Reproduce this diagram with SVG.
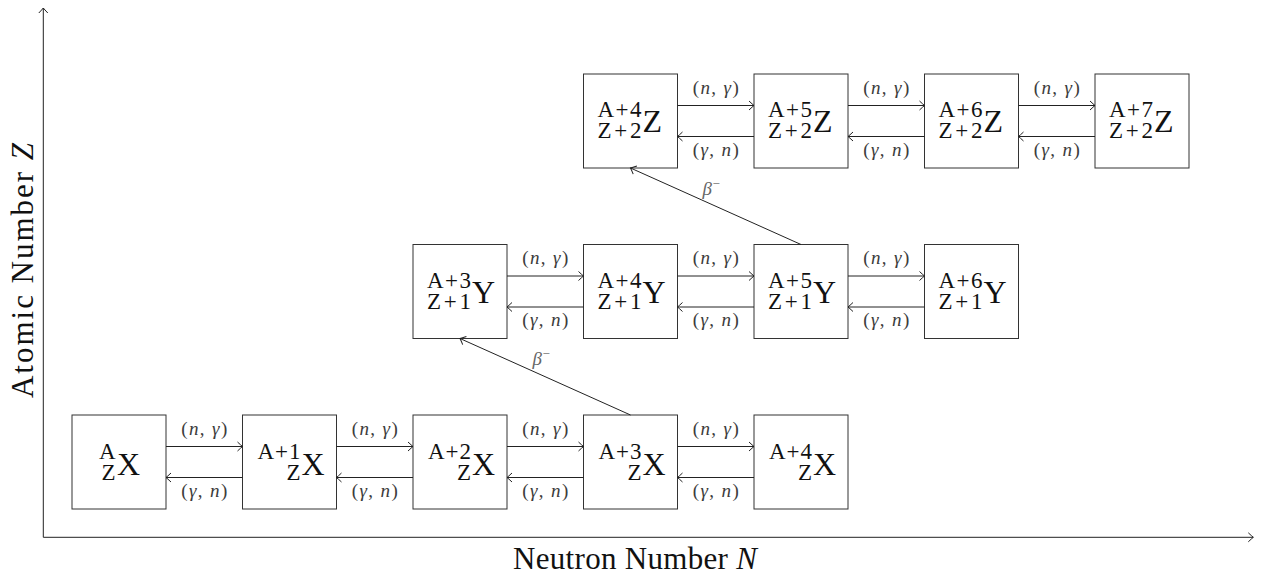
<svg xmlns="http://www.w3.org/2000/svg" width="1272" height="579" viewBox="0 0 1272 579" font-family="'Liberation Serif', 'Times New Roman', serif">
<style>
text, tspan{font-family:'Liberation Serif','Times New Roman',serif}
.box{fill:#fff;stroke:#333;stroke-width:1}
.ln{fill:none;stroke:#222;stroke-width:1}
.arr{marker-end:url(#ah)}
.scr{font-size:23px;fill:#111;text-anchor:end}
.big{font-size:32px;fill:#111;text-anchor:start}
.rl{font-size:19px;fill:#3c3c3c;text-anchor:middle}
.beta{font-size:19px;fill:#666;font-style:italic}
.bsup{font-size:13px;fill:#666;font-style:normal}
.ax{font-size:31px;fill:#111;text-anchor:middle}
.it{font-style:italic}
</style>
<defs>
<marker id="ah" markerUnits="userSpaceOnUse" viewBox="-7 -6 8 12" markerWidth="8" markerHeight="12" refX="0" refY="0" orient="auto" overflow="visible">
<path d="M-5,-4.5 Q-1.5,-1.2 0,0 Q-1.5,1.2 -5,4.5" fill="none" stroke="#222" stroke-width="1"/>
</marker>
</defs>

<g id="axes">
<line class="ln arr" x1="43.3" y1="537.3" x2="1253.3" y2="537.3"/>
<line class="ln arr" x1="43.3" y1="537.3" x2="43.3" y2="8"/>
<text class="ax" x="635" y="569" textLength="244">Neutron Number <tspan class="it">N</tspan></text>
<text class="ax" transform="translate(33,270.5) rotate(-90)" textLength="255">Atomic Number <tspan class="it">Z</tspan></text>
</g>

<!-- Row X -->
<g id="nX0"><rect class="box" x="72" y="415" width="94" height="94"/>
<text><tspan class="scr" x="115.5" y="458.5">A</tspan><tspan class="scr" x="115.5" y="479.5">Z</tspan><tspan class="big" x="117" y="475">X</tspan></text></g>
<g id="nX1"><rect class="box" x="242.5" y="415" width="94" height="94"/>
<text><tspan class="scr" x="300.5" y="458.5" textLength="43">A+1</tspan><tspan class="scr" x="300.5" y="479.5">Z</tspan><tspan class="big" x="301.5" y="475">X</tspan></text></g>
<g id="nX2"><rect class="box" x="413" y="415" width="94" height="94"/>
<text><tspan class="scr" x="471" y="458.5" textLength="43">A+2</tspan><tspan class="scr" x="471" y="479.5">Z</tspan><tspan class="big" x="472" y="475">X</tspan></text></g>
<g id="nX3"><rect class="box" x="583.5" y="415" width="94" height="94"/>
<text><tspan class="scr" x="641.5" y="458.5" textLength="43">A+3</tspan><tspan class="scr" x="641.5" y="479.5">Z</tspan><tspan class="big" x="642.5" y="475">X</tspan></text></g>
<g id="nX4"><rect class="box" x="754" y="415" width="94" height="94"/>
<text><tspan class="scr" x="812" y="458.5" textLength="43">A+4</tspan><tspan class="scr" x="812" y="479.5">Z</tspan><tspan class="big" x="813" y="475">X</tspan></text></g>

<!-- Row Y -->
<g id="nY3"><rect class="box" x="413" y="244.5" width="94" height="94"/>
<text><tspan class="scr" x="471" y="287.5" textLength="44">A+3</tspan><tspan class="scr" x="471" y="308.5" textLength="44">Z+1</tspan><tspan class="big" x="472" y="302.5">Y</tspan></text></g>
<g id="nY4"><rect class="box" x="583.5" y="244.5" width="94" height="94"/>
<text><tspan class="scr" x="641.5" y="287.5" textLength="44">A+4</tspan><tspan class="scr" x="641.5" y="308.5" textLength="44">Z+1</tspan><tspan class="big" x="642.5" y="302.5">Y</tspan></text></g>
<g id="nY5"><rect class="box" x="754" y="244.5" width="94" height="94"/>
<text><tspan class="scr" x="812" y="287.5" textLength="44">A+5</tspan><tspan class="scr" x="812" y="308.5" textLength="44">Z+1</tspan><tspan class="big" x="813" y="302.5">Y</tspan></text></g>
<g id="nY6"><rect class="box" x="924.5" y="244.5" width="94" height="94"/>
<text><tspan class="scr" x="982.5" y="287.5" textLength="44">A+6</tspan><tspan class="scr" x="982.5" y="308.5" textLength="44">Z+1</tspan><tspan class="big" x="983.5" y="302.5">Y</tspan></text></g>

<!-- Row Z -->
<g id="nZ4"><rect class="box" x="583.5" y="74" width="94" height="94"/>
<text><tspan class="scr" x="641.5" y="117" textLength="44">A+4</tspan><tspan class="scr" x="641.5" y="138" textLength="44">Z+2</tspan><tspan class="big" x="642.5" y="132">Z</tspan></text></g>
<g id="nZ5"><rect class="box" x="754" y="74" width="94" height="94"/>
<text><tspan class="scr" x="812" y="117" textLength="44">A+5</tspan><tspan class="scr" x="812" y="138" textLength="44">Z+2</tspan><tspan class="big" x="813" y="132">Z</tspan></text></g>
<g id="nZ6"><rect class="box" x="924.5" y="74" width="94" height="94"/>
<text><tspan class="scr" x="982.5" y="117" textLength="44">A+6</tspan><tspan class="scr" x="982.5" y="138" textLength="44">Z+2</tspan><tspan class="big" x="983.5" y="132">Z</tspan></text></g>
<g id="nZ7"><rect class="box" x="1095" y="74" width="94" height="94"/>
<text><tspan class="scr" x="1153" y="117" textLength="44">A+7</tspan><tspan class="scr" x="1153" y="138" textLength="44">Z+2</tspan><tspan class="big" x="1154" y="132">Z</tspan></text></g>

<g id="connectors">
<!-- Row X -->
<line class="ln arr" x1="166" y1="446.5" x2="242.5" y2="446.5"/><line class="ln arr" x1="242.5" y1="477.5" x2="166" y2="477.5"/>
<line class="ln arr" x1="336.5" y1="446.5" x2="413" y2="446.5"/><line class="ln arr" x1="413" y1="477.5" x2="336.5" y2="477.5"/>
<line class="ln arr" x1="507" y1="446.5" x2="583.5" y2="446.5"/><line class="ln arr" x1="583.5" y1="477.5" x2="507" y2="477.5"/>
<line class="ln arr" x1="677.5" y1="446.5" x2="754" y2="446.5"/><line class="ln arr" x1="754" y1="477.5" x2="677.5" y2="477.5"/>
<!-- Row Y -->
<line class="ln arr" x1="507" y1="276" x2="583.5" y2="276"/><line class="ln arr" x1="583.5" y1="307" x2="507" y2="307"/>
<line class="ln arr" x1="677.5" y1="276" x2="754" y2="276"/><line class="ln arr" x1="754" y1="307" x2="677.5" y2="307"/>
<line class="ln arr" x1="848" y1="276" x2="924.5" y2="276"/><line class="ln arr" x1="924.5" y1="307" x2="848" y2="307"/>
<!-- Row Z -->
<line class="ln arr" x1="677.5" y1="105.5" x2="754" y2="105.5"/><line class="ln arr" x1="754" y1="136.5" x2="677.5" y2="136.5"/>
<line class="ln arr" x1="848" y1="105.5" x2="924.5" y2="105.5"/><line class="ln arr" x1="924.5" y1="136.5" x2="848" y2="136.5"/>
<line class="ln arr" x1="1018.5" y1="105.5" x2="1095" y2="105.5"/><line class="ln arr" x1="1095" y1="136.5" x2="1018.5" y2="136.5"/>
<!-- beta decays -->
<line class="ln arr" x1="630.5" y1="415" x2="460" y2="338.5"/>
<line class="ln arr" x1="801" y1="244.5" x2="630.5" y2="168"/>

<!-- labels Row X -->
<text class="rl" x="204.25" y="434.5" textLength="46">(<tspan class="it">n</tspan>, <tspan class="it">γ</tspan>)</text>
<text class="rl" x="204.25" y="496.5" textLength="46">(<tspan class="it">γ</tspan>, <tspan class="it">n</tspan>)</text>
<text class="rl" x="374.75" y="434.5" textLength="46">(<tspan class="it">n</tspan>, <tspan class="it">γ</tspan>)</text>
<text class="rl" x="374.75" y="496.5" textLength="46">(<tspan class="it">γ</tspan>, <tspan class="it">n</tspan>)</text>
<text class="rl" x="545.25" y="434.5" textLength="46">(<tspan class="it">n</tspan>, <tspan class="it">γ</tspan>)</text>
<text class="rl" x="545.25" y="496.5" textLength="46">(<tspan class="it">γ</tspan>, <tspan class="it">n</tspan>)</text>
<text class="rl" x="715.75" y="434.5" textLength="46">(<tspan class="it">n</tspan>, <tspan class="it">γ</tspan>)</text>
<text class="rl" x="715.75" y="496.5" textLength="46">(<tspan class="it">γ</tspan>, <tspan class="it">n</tspan>)</text>
<!-- labels Row Y -->
<text class="rl" x="545.25" y="264" textLength="46">(<tspan class="it">n</tspan>, <tspan class="it">γ</tspan>)</text>
<text class="rl" x="545.25" y="326" textLength="46">(<tspan class="it">γ</tspan>, <tspan class="it">n</tspan>)</text>
<text class="rl" x="715.75" y="264" textLength="46">(<tspan class="it">n</tspan>, <tspan class="it">γ</tspan>)</text>
<text class="rl" x="715.75" y="326" textLength="46">(<tspan class="it">γ</tspan>, <tspan class="it">n</tspan>)</text>
<text class="rl" x="886.25" y="264" textLength="46">(<tspan class="it">n</tspan>, <tspan class="it">γ</tspan>)</text>
<text class="rl" x="886.25" y="326" textLength="46">(<tspan class="it">γ</tspan>, <tspan class="it">n</tspan>)</text>
<!-- labels Row Z -->
<text class="rl" x="715.75" y="93.5" textLength="46">(<tspan class="it">n</tspan>, <tspan class="it">γ</tspan>)</text>
<text class="rl" x="715.75" y="155.5" textLength="46">(<tspan class="it">γ</tspan>, <tspan class="it">n</tspan>)</text>
<text class="rl" x="886.25" y="93.5" textLength="46">(<tspan class="it">n</tspan>, <tspan class="it">γ</tspan>)</text>
<text class="rl" x="886.25" y="155.5" textLength="46">(<tspan class="it">γ</tspan>, <tspan class="it">n</tspan>)</text>
<text class="rl" x="1056.75" y="93.5" textLength="46">(<tspan class="it">n</tspan>, <tspan class="it">γ</tspan>)</text>
<text class="rl" x="1056.75" y="155.5" textLength="46">(<tspan class="it">γ</tspan>, <tspan class="it">n</tspan>)</text>
<!-- beta labels -->
<text class="beta" x="532.5" y="364.5">β<tspan class="bsup" dx="0.5" dy="-7">−</tspan></text>
<text class="beta" x="702.5" y="194.5">β<tspan class="bsup" dx="0.5" dy="-7">−</tspan></text>
</g>
</svg>
